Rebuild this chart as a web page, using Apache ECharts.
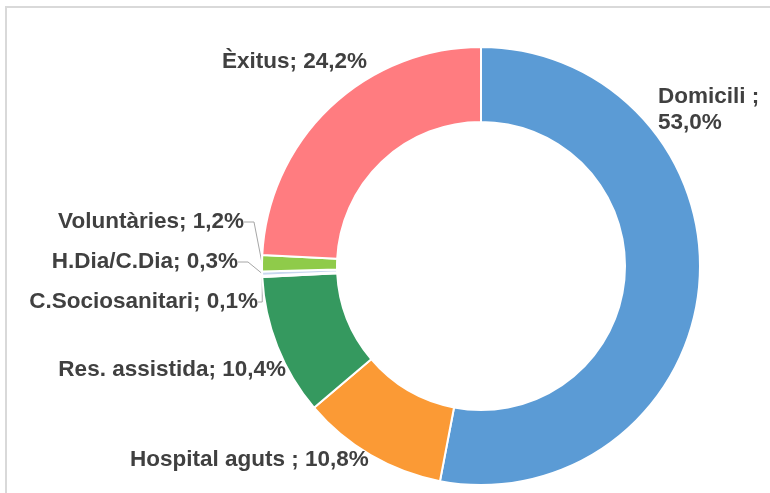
<!DOCTYPE html>
<html>
<head>
<meta charset="utf-8">
<script src="https://cdn.jsdelivr.net/npm/echarts@6/dist/echarts.min.js"></script>
<style>
  html, body { margin: 0; padding: 0; background: #ffffff; }
  #chart { width: 770px; height: 493px; }
</style>
</head>
<body>
<div id="chart"></div>
<script>
// Destinació a l'alta (percentatge d'altes)
const categories = ['Domicili ', 'Hospital aguts ', 'Res. assistida', 'C.Sociosanitari', 'H.Dia/C.Dia', 'Voluntàries', 'Èxitus'];
const shares = [53.0, 10.8, 10.4, 0.1, 0.3, 1.2, 24.2];

// Slice colours, in category order
const sliceColors = ['#5b9bd5', '#fb9a35', '#35995f', '#b0b0b0', '#c9d7ef', '#8fcb4a', '#ff7c80'];

// Label anchor placement per slice: [x, y, align]
const labelPlacement = [
  [658, 110, 'left'],
  [130, 460, 'left'],
  [286, 370, 'right'],
  [258, 302, 'right'],
  [238, 262, 'right'],
  [244, 222, 'right'],
  [222, 62, 'left']
];
const withLeader = [false, false, false, true, true, true, false];
const wrapAfterName = [true, false, false, false, false, false, false];

const fmt = v => v.toFixed(1).replace('.', ',') + '%';

const chart = echarts.init(document.getElementById('chart'), null, { renderer: 'canvas' });

chart.setOption({
  animation: false,
  backgroundColor: '#ffffff',
  graphic: [{
    type: 'rect',
    shape: { x: 6, y: 7, width: 800, height: 520 },
    style: { fill: 'none', stroke: '#d9d9d9', lineWidth: 2 },
    silent: true
  }],
  series: [{
    type: 'pie',
    center: [481, 266],
    radius: [144, 219],
    startAngle: 90,
    clockwise: true,
    avoidLabelOverlap: false,
    itemStyle: { borderColor: '#ffffff', borderWidth: 2 },
    label: {
      show: true,
      position: 'outside',
      color: '#404040',
      fontFamily: 'Liberation Sans, Arial, sans-serif',
      fontWeight: 'bold',
      fontSize: 22.5,
      lineHeight: 26,
      formatter: p => p.name + ';' + (wrapAfterName[p.dataIndex] ? '\n' : ' ') + fmt(p.value)
    },
    labelLine: {
      length: 14,
      length2: 10,
      lineStyle: { color: '#a6a6a6', width: 1 }
    },
    labelLayout: p => {
      const [x, y, align] = labelPlacement[p.dataIndex];
      return { x, y, align, verticalAlign: 'middle' };
    },
    data: categories.map((name, i) => ({
      name,
      value: shares[i],
      itemStyle: { color: sliceColors[i] },
      labelLine: { show: withLeader[i] }
    }))
  }]
});
</script>
</body>
</html>
